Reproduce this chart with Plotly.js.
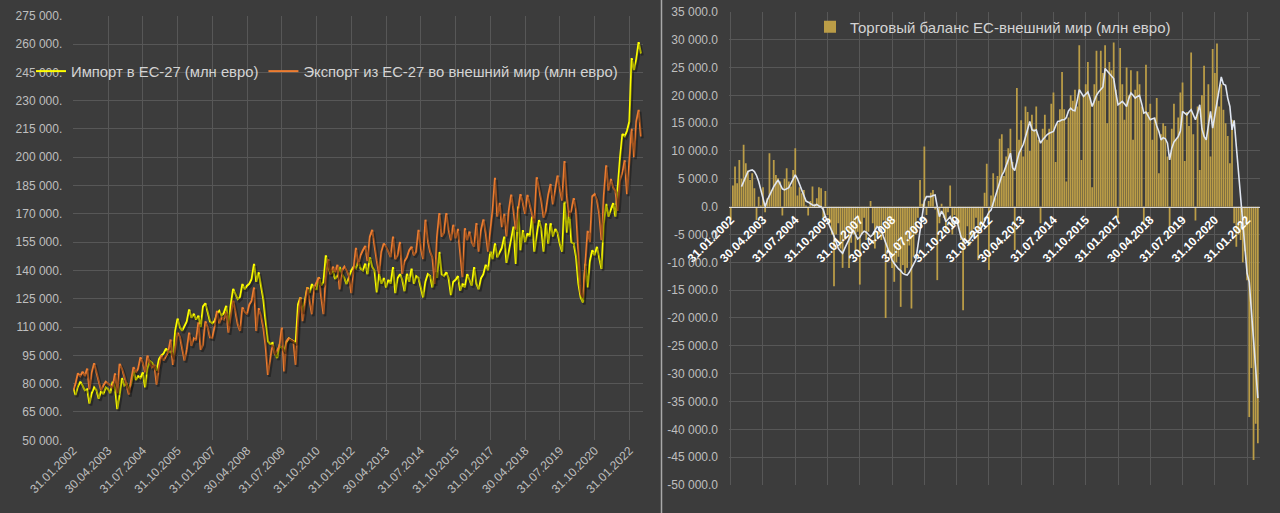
<!DOCTYPE html>
<html><head><meta charset="utf-8">
<script src="https://cdn.plot.ly/plotly-3.0.1.min.js"></script>
<style>html,body{margin:0;padding:0;background:#3c3c3c;}#chart{width:1280px;height:513px;}</style>
</head><body><div id="chart"></div>
<script>
// Monthly data, Jan 2002 .. Jun 2022, values in thousand mln EUR (77.5 = 77 500 mln EUR)
const TICK_LABELS = ['31.01.2002','30.04.2003','31.07.2004','31.10.2005','31.01.2007','30.04.2008','31.07.2009','31.10.2010','31.01.2012','30.04.2013','31.07.2014','31.10.2015','31.01.2017','30.04.2018','31.07.2019','31.10.2020','31.01.2022'];
const TICK_STEP_MONTHS = 15;

const IMPORT_EU27 = [
 77.5,74.0,78.5,81.0,79.0,76.5,77.0,69.5,75.0,78.0,76.5,72.0,
 76.0,74.5,78.0,77.0,75.0,81.0,78.0,66.5,74.0,83.0,79.0,80.0,
 76.5,80.0,86.8,82.0,84.0,83.0,86.0,78.0,88.0,92.0,91.0,89.0,
 87.0,93.0,95.0,96.0,98.6,96.5,97.0,94.0,108.0,114.5,110.0,108.0,
 111.0,113.0,119.3,115.0,117.0,114.0,116.0,110.0,121.0,122.6,118.0,113.0,
 112.0,113.2,117.0,118.6,116.0,117.5,121.3,111.4,122.0,130.2,127.5,124.8,
 126.0,132.8,130.0,131.9,133.0,135.5,143.5,134.0,139.0,132.0,125.0,113.2,
 102.5,101.0,101.6,96.0,93.6,100.0,99.0,97.1,102.0,104.0,103.0,102.5,
 101.6,122.0,125.7,118.0,124.0,131.0,128.0,132.8,130.0,130.0,136.4,132.0,
 134.0,148.0,142.0,138.2,140.0,135.5,137.0,141.8,138.0,136.0,132.8,137.0,
 140.0,142.0,141.0,145.3,141.0,140.0,143.6,138.0,147.0,142.0,140.0,128.4,
 138.2,133.0,136.0,131.0,135.0,133.0,141.8,128.0,136.0,138.0,135.0,129.0,
 138.2,134.0,140.9,133.0,137.0,136.0,130.2,125.7,134.0,138.0,137.0,131.0,
 140.0,136.0,149.8,138.0,137.0,139.0,136.0,127.0,134.0,135.0,137.0,129.3,
 133.0,131.0,138.0,135.0,132.0,141.8,133.0,130.0,136.0,138.0,143.0,140.0,
 150.0,146.0,154.3,147.0,150.0,152.0,157.9,144.0,150.0,156.0,163.2,143.5,
 173.9,150.7,161.4,155.0,159.6,158.0,168.5,150.0,158.0,166.7,162.0,150.0,
 165.0,154.2,165.0,158.0,162.0,160.0,154.0,150.0,176.5,160.0,171.6,155.0,
 154.2,147.1,133.0,125.7,123.0,143.5,131.0,145.0,150.7,148.0,152.5,147.0,
 140.8,165.0,175.3,168.5,172.0,175.7,168.5,186.4,200.0,212.3,211.1,214.0,
 218.9,252.5,246.2,252.0,261.0,255.0
];
const EXPORT_EU27 = [
 76.5,80.0,85.5,84.0,86.3,84.0,88.0,77.0,86.0,90.9,86.0,81.0,
 76.5,79.0,81.0,80.0,79.0,78.0,85.5,75.0,90.5,88.0,84.0,79.5,
 74.2,82.0,88.7,86.0,88.0,94.0,91.0,86.0,94.9,91.0,88.7,90.0,
 79.5,88.7,95.0,92.3,95.0,97.0,103.4,90.0,98.1,107.0,105.0,99.0,
 92.3,98.0,107.0,100.0,104.0,103.0,112.5,98.0,100.6,113.0,110.0,104.5,
 104.3,110.0,118.6,112.0,115.0,114.0,118.0,107.0,116.0,124.0,118.0,111.4,
 108.0,120.4,118.0,116.8,122.0,124.0,131.0,107.9,120.0,116.0,110.0,100.0,
 84.7,92.0,100.7,95.4,98.0,100.0,109.7,86.5,102.5,104.0,103.0,102.5,
 90.0,113.0,125.7,113.2,122.0,131.0,124.0,116.8,131.0,134.0,136.4,126.0,
 116.8,136.0,146.0,138.0,142.0,139.0,143.0,130.0,140.0,142.0,140.0,137.0,
 128.0,141.0,152.0,143.0,148.0,150.7,153.0,145.0,157.9,161.5,152.6,145.0,
 138.2,150.0,154.3,152.6,150.0,147.1,157.9,146.0,148.0,155.1,138.2,145.0,
 147.0,150.7,152.6,148.0,150.0,161.5,151.7,146.0,166.9,156.0,150.0,147.0,
 132.8,158.0,170.4,157.9,160.0,170.4,161.5,156.0,164.2,157.0,162.0,150.0,
 136.4,162.4,156.0,160.6,155.0,152.6,165.1,150.0,161.5,167.0,160.0,150.0,
 161.5,172.0,189.1,168.5,175.8,163.0,170.0,158.0,172.0,180.2,172.0,161.5,
 172.0,180.4,176.0,170.0,180.0,175.0,168.5,165.0,189.4,183.0,177.0,168.0,
 171.6,180.0,185.8,175.0,184.0,190.3,183.0,177.0,198.0,180.0,168.5,172.0,
 178.3,171.6,150.0,128.0,125.7,143.5,161.0,155.0,179.3,180.4,177.5,170.0,
 156.0,180.0,195.7,182.3,188.5,184.0,182.0,171.6,188.0,192.0,198.4,180.4,
 200.0,215.0,200.0,219.0,225.1,211.0
];
const TRADE_BALANCE = [
 -2.4,3.8,7.2,4.2,8.4,5.0,11.1,7.8,6.5,4.8,6.0,3.3,
 -2.4,1.8,0.2,3.5,-1.0,1.5,9.6,3.0,8.4,5.7,5.1,4.5,
 -1.6,5.0,6.9,4.5,3.6,6.6,10.5,2.0,3.5,2.4,3.0,0.2,
 -1.6,1.0,3.6,0.5,1.5,3.5,3.3,-2.0,2.8,-1.5,-3.0,-5.0,
 -14.3,-5.0,-3.0,-7.5,-11.0,-6.0,-4.0,-11.0,-6.5,-5.0,-8.0,-4.5,
 -14.0,-5.0,-2.0,-6.0,-4.5,1.0,-3.0,-7.5,-3.5,-5.0,-6.0,-2.5,
 -20.0,-8.0,-9.0,-11.0,-13.5,-10.0,-9.0,-18.0,-10.5,-12.0,-11.0,-7.0,
 -18.3,-9.0,-5.0,-2.0,4.8,0.5,10.8,-1.5,1.0,2.5,3.0,-0.5,
 -13.2,-3.0,0.5,-2.0,-4.5,-1.0,3.8,-5.0,-1.5,-2.0,-4.0,-6.0,
 -18.6,-6.0,-3.5,-7.0,-5.5,-4.0,-2.0,-9.6,-4.0,-3.0,2.5,7.7,
 -11.4,2.0,6.0,1.5,5.5,12.2,13.0,5.5,9.0,10.5,14.0,8.0,
 -7.8,21.3,12.0,15.5,9.0,18.0,17.0,10.0,16.5,14.0,18.0,12.0,
 -3.0,14.0,16.5,12.0,14.0,18.5,20.5,8.0,15.0,17.5,24.2,17.5,
 4.5,16.0,20.0,19.0,21.0,18.0,29.0,8.4,20.0,22.0,26.0,19.5,
 3.5,22.0,28.0,19.0,28.0,24.0,29.0,15.0,26.0,24.5,29.5,21.0,
 -2.0,28.5,22.0,15.6,25.0,20.0,24.5,12.0,21.0,24.3,22.0,18.0,
 -3.0,25.5,17.0,18.5,12.0,16.0,19.5,6.0,13.0,15.0,14.5,9.0,
 -4.0,14.0,18.5,12.0,16.0,20.5,22.3,8.2,17.0,14.5,27.7,13.0,
 -2.5,18.0,6.6,20.0,25.3,12.0,22.0,9.0,28.3,24.0,29.3,18.0,
 22.0,17.4,15.0,12.7,7.8,15.6,-3.0,-7.2,-5.0,-6.0,-10.0,-8.0,
 -13.2,-37.8,-29.0,-45.5,-39.0,-42.5
];
// white line: 6-month moving average
const BALANCE_MA6 = [
 null,null,null,null,null,3.6,4.5,5.5,6.3,6.5,6.6,6.3,
 5.6,4.5,3.0,1.5,0.0,1.2,2.0,3.0,3.6,4.2,4.8,4.0,
 3.2,3.0,3.2,3.4,4.2,5.0,5.7,5.0,4.0,3.0,2.0,1.0,
 0.8,0.5,0.3,0.2,0.4,0.1,0.0,-0.5,-1.8,-2.6,-3.4,-4.2,
 -5.3,-6.4,-7.5,-8.0,-8.4,-7.5,-6.6,-6.0,-5.0,-4.2,-5.0,-5.8,
 -5.5,-4.8,-4.4,-4.6,-5.0,-5.4,-5.0,-4.2,-3.6,-3.8,-4.2,-5.4,
 -6.5,-7.5,-8.6,-9.6,-10.2,-10.8,-11.2,-11.5,-12.0,-12.2,-12.3,-11.8,
 -11.0,-10.5,-9.6,-7.0,-4.5,-1.5,1.0,1.8,1.8,1.8,2.0,2.1,
 0.0,-1.8,-0.8,-1.5,-2.7,-2.2,-1.8,-2.8,-3.2,-2.3,-3.8,-5.4,
 -6.0,-6.6,-6.3,-6.0,-5.4,-4.8,-4.6,-4.4,-4.2,-3.4,-2.6,-1.8,
 -1.0,-0.6,0.6,1.8,3.2,4.6,5.6,6.3,7.2,8.4,9.6,7.0,
 6.5,8.0,9.6,10.4,11.2,12.5,14.0,15.3,13.8,13.6,13.8,12.6,
 11.4,12.0,12.5,12.9,13.2,13.3,13.5,14.5,15.3,15.4,15.6,15.6,
 16.0,17.2,17.7,17.3,17.2,19.0,21.0,20.4,19.8,20.2,20.6,19.5,
 18.0,19.0,20.0,20.6,21.1,21.5,24.8,24.3,23.9,23.5,23.0,20.5,
 18.3,18.6,18.9,18.5,18.0,19.4,20.4,20.0,19.5,19.8,20.0,18.5,
 16.8,17.0,16.4,15.6,15.8,15.9,14.5,13.5,12.0,12.4,12.2,11.4,
 8.4,10.5,11.6,12.2,12.6,13.6,17.1,16.8,16.5,17.0,17.4,16.5,
 15.6,16.8,18.3,14.0,12.6,12.0,15.0,17.1,14.1,16.5,19.2,21.5,
 23.3,22.0,21.8,19.5,18.0,13.8,15.5,10.8,6.0,2.5,-2.0,-8.4,
 -12.0,-13.5,-18.5,-24.0,-29.5,-34.4
];
const LEFT_Y_TICKS = [50,65,80,95,110,125,140,155,170,185,200,215,230,245,260,275];
const RIGHT_Y_TICKS = [-50,-45,-40,-35,-30,-25,-20,-15,-10,-5,0,5,10,15,20,25,30,35];

const NAME_IMP = 'Импорт в ЕС-27 (млн евро)';
const NAME_EXP = 'Экспорт из ЕС-27 во внешний мир (млн евро)';
const NAME_BAL = 'Торговый баланс ЕС-внешний мир (млн евро)';

function group(n){ const s = String(Math.round(Math.abs(n))); return s.replace(/\B(?=(\d{3})+(?!\d))/g,' '); }
const fmtLeft = v => group(v*1000) + '.';
const fmtRight = v => (v<0?'-':'') + group(v*1000) + '.0';

const idx = arr => arr.map((_, i) => i);
const tickPos = TICK_LABELS.map((_, k) => k*TICK_STEP_MONTHS);

const W = 1280, H = 513;
const px = x => x / W, py = y => 1 - y / H;
const FONT = 'Liberation Sans, Arial, sans-serif';
const GRID = '#575757';
const BG = '#3c3c3c';

const xDomL = [px(73.3), px(642.7)], yDomL = [py(440.3), py(15.7)];
// shadow axes: same scales, shifted 1.5px right / 2px down
const xDomS = [px(74.8), px(644.2)], yDomS = [py(442.3), py(17.7)];
const y2dom = [py(485), py(11.8)];
const zeroPos = y2dom[0] + (y2dom[1]-y2dom[0]) * (0 - (-50)) / (35 - (-50));

const SHADOW = 'rgba(0,0,0,0.33)';
const traces = [
 {x: idx(IMPORT_EU27), y: IMPORT_EU27, type:'scatter', mode:'lines', name: NAME_IMP+' тень',
  line:{color: SHADOW, width:2.6}, xaxis:'x3', yaxis:'y3', showlegend:false, hoverinfo:'skip'},
 {x: idx(EXPORT_EU27), y: EXPORT_EU27, type:'scatter', mode:'lines', name: NAME_EXP+' тень',
  line:{color: SHADOW, width:2.6}, xaxis:'x3', yaxis:'y3', showlegend:false, hoverinfo:'skip'},
 {x: idx(IMPORT_EU27), y: IMPORT_EU27, type:'scatter', mode:'lines', name: NAME_IMP,
  line:{color:'#ffff00', width:2}, xaxis:'x', yaxis:'y', legend:'legend', hoverinfo:'skip'},
 {x: idx(EXPORT_EU27), y: EXPORT_EU27, type:'scatter', mode:'lines', name: NAME_EXP,
  line:{color:'#ed7d31', width:2}, xaxis:'x', yaxis:'y', legend:'legend', hoverinfo:'skip'},
 {x: idx(TRADE_BALANCE), y: TRADE_BALANCE, type:'bar', name: NAME_BAL,
  marker:{color:'#bb9d47', line:{width:0}}, xaxis:'x2', yaxis:'y2', legend:'legend2', hoverinfo:'skip'},
 {x: idx(BALANCE_MA6), y: BALANCE_MA6, type:'scatter', mode:'lines', name:'6 пер. скол. среднее',
  line:{color:'#dfe5f0', width:1.6}, xaxis:'x2', yaxis:'y2', showlegend:false, hoverinfo:'skip'}
];

const hiddenAxis = {showgrid:false, zeroline:false, showline:false, showticklabels:false, ticks:'', fixedrange:true};

const layout = {
 width: W, height: H, margin:{l:0,r:0,t:0,b:0},
 paper_bgcolor: BG, plot_bgcolor: 'rgba(0,0,0,0)',
 font:{family: FONT, color:'#c0c0c0', size:12},
 bargap: 0.18,
 xaxis:{domain: xDomL, range:[0, 245.75], tickvals: tickPos, ticktext: TICK_LABELS,
   tickangle:-45, showgrid:true, gridcolor: GRID, gridwidth:1, zeroline:false, showline:false, ticks:'',
   tickfont:{size:12, color:'#bfbfbf'}, automargin:false, fixedrange:true},
 yaxis:{domain: yDomL, range:[50, 275], tickvals: LEFT_Y_TICKS, ticktext: LEFT_Y_TICKS.map(fmtLeft),
   showgrid:true, gridcolor: GRID, zeroline:false, showline:false, ticks:'', ticklabelstandoff: 10,
   tickfont:{size:12, color:'#bfbfbf'}, automargin:false, fixedrange:true},
 xaxis3: Object.assign({domain: xDomS, range:[0, 245.75], anchor:'y3'}, hiddenAxis),
 yaxis3: Object.assign({domain: yDomS, range:[50, 275], anchor:'x3'}, hiddenAxis),
 xaxis2:{domain:[px(729), px(1260)], range:[-0.8, 246], anchor:'free', position: zeroPos,
   tickvals: tickPos, ticktext: TICK_LABELS, tickangle:-45, showgrid:true, gridcolor: GRID, zeroline:false,
   showline:true, linecolor:'#d9d9d9', linewidth:1.5, ticks:'',
   tickfont:{size:12, color:'#ffffff', weight:'bold'}, automargin:false, fixedrange:true},
 yaxis2:{domain: y2dom, range:[-50, 35], anchor:'x2', tickvals: RIGHT_Y_TICKS, ticktext: RIGHT_Y_TICKS.map(fmtRight),
   showgrid:true, gridcolor: GRID, zeroline:false, showline:false, ticks:'', ticklabelstandoff: 10,
   tickfont:{size:12, color:'#bfbfbf'}, automargin:false, fixedrange:true},
 legend:{orientation:'h', x: px(31), y: py(55), xanchor:'left', yanchor:'top', bgcolor:'rgba(0,0,0,0)',
   font:{size:14.8, color:'#d4d4d4'}, traceorder:'normal'},
 legend2:{orientation:'h', x: px(810), y: py(10.5), xanchor:'left', yanchor:'top', bgcolor:'rgba(0,0,0,0)',
   font:{size:15, color:'#d4d4d4'}},
 shapes:[{type:'line', xref:'paper', yref:'paper', x0: px(661.5), x1: px(661.5), y0:0, y1:1,
   line:{color:'#a9a9a9', width:1.5}}]
};

Plotly.newPlot('chart', traces, layout, {displayModeBar:false, staticPlot:true});
</script>
</body></html>
